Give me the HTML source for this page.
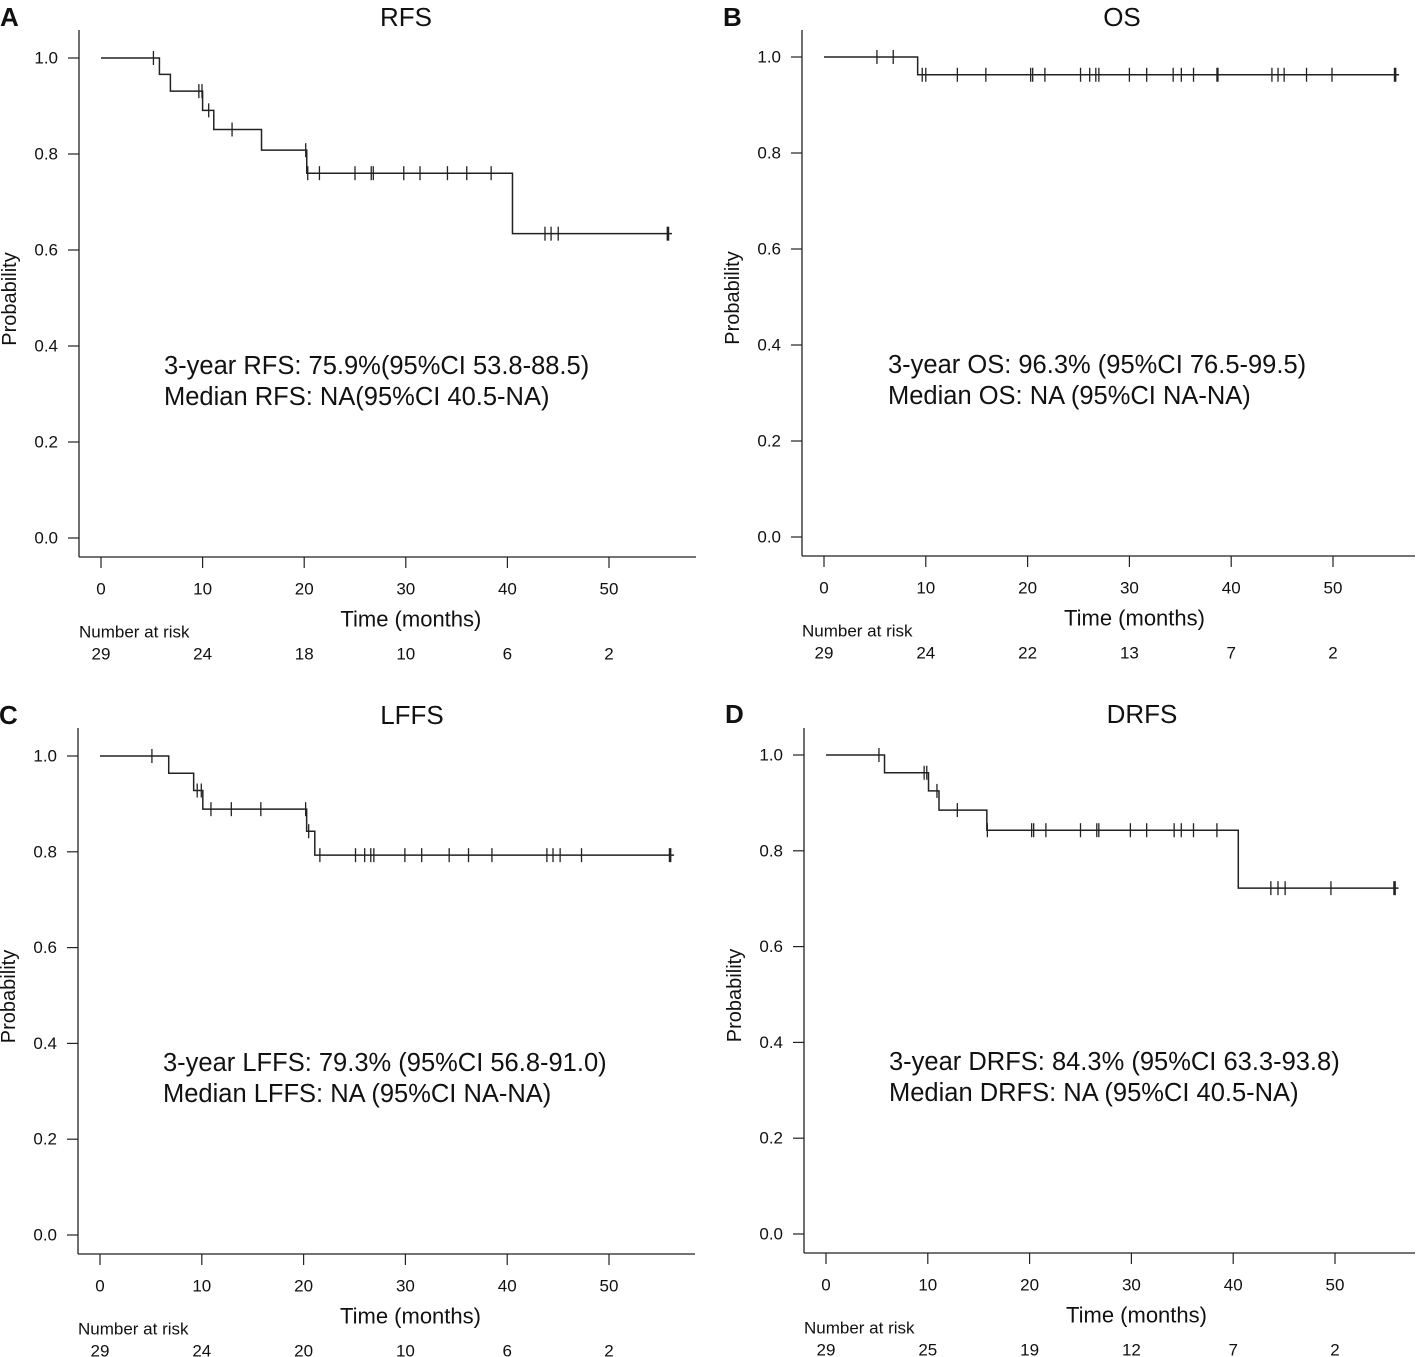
<!DOCTYPE html>
<html><head><meta charset="utf-8">
<style>
html,body{margin:0;padding:0;background:#fff;}
svg{display:block;font-family:"Liberation Sans",Arial,sans-serif;}
</style></head>
<body>
<svg id="fig" width="1418" height="1357" viewBox="0 0 1418 1357" xmlns="http://www.w3.org/2000/svg"></svg>
<script>
// ---- Data ----
const rfsEventTimes = [5.75, 6.83, 10.0, 11.1, 15.8, 20.25, 40.5];
const rfsSurv = [0.966, 0.931, 0.891, 0.851, 0.808, 0.760, 0.634];
const rfsCensor = [5.16, 9.63, 9.94, 10.6, 12.9, 20.15, 20.35, 21.5, 25.0, 26.6, 26.8, 29.8, 31.4, 34.1, 36.0, 38.4, 43.7, 44.3, 45.0, 55.8];
const rfsRisk = [29, 24, 18, 10, 6, 2];

const osEventTimes = [9.2];
const osSurv = [0.963];
const osCensor = [5.2, 6.8, 9.65, 10.0, 13.1, 15.9, 20.3, 20.5, 21.7, 25.2, 26.1, 26.7, 27.0, 30.0, 31.7, 34.3, 35.1, 36.3, 38.6, 38.7, 44.0, 44.6, 45.2, 47.4, 49.9, 56.1];
const osRisk = [29, 24, 22, 13, 7, 2];

const lffsEventTimes = [6.75, 9.2, 10.1, 20.3, 21.1];
const lffsSurv = [0.964, 0.928, 0.889, 0.843, 0.793];
const lffsCensor = [5.1, 9.55, 9.95, 10.9, 12.9, 15.8, 20.2, 20.5, 21.6, 25.1, 26.0, 26.6, 26.9, 29.95, 31.6, 34.3, 36.2, 38.5, 43.9, 44.5, 45.2, 47.3, 56.0];
const lffsRisk = [29, 24, 20, 10, 6, 2];

const drfsEventTimes = [5.75, 10.07, 11.1, 15.8, 40.5];
const drfsSurv = [0.963, 0.925, 0.885, 0.843, 0.722];
const drfsCensor = [5.2, 9.64, 9.9, 10.9, 12.9, 15.85, 20.2, 20.4, 21.6, 25.0, 26.6, 26.8, 29.9, 31.5, 34.2, 34.9, 36.1, 38.4, 43.7, 44.4, 45.1, 49.6, 55.85];
const drfsRisk = [29, 25, 19, 12, 7, 2];

const xTicks = [0, 10, 20, 30, 40, 50];
const yTicks = [0, 0.2, 0.4, 0.6, 0.8, 1.0];

const svg = document.getElementById('fig');
const NS = 'http://www.w3.org/2000/svg';
function mk(tag, attrs, parent) {
  const e = document.createElementNS(NS, tag);
  for (const k in attrs) e.setAttribute(k, attrs[k]);
  (parent || svg).appendChild(e);
  return e;
}
function txt(s, x, y, size, parent, anchor) {
  const t = mk('text', {x: x, y: y, 'font-size': size, 'text-anchor': anchor || 'start', 'dominant-baseline': 'central', fill: '#111'}, parent);
  t.textContent = s;
  return t;
}

const panels = [
  {key:'rfs', letter:'A', title:'RFS', ev:rfsEventTimes, sv:rfsSurv, cs:rfsCensor, risk:rfsRisk,
   x0:101, ppm:10.16, y1:58, y0:538, left:79, right:696, top:30, titleX:406, titleY:17,
   ann:['3-year RFS: 75.9%(95%CI 53.8-88.5)','Median RFS: NA(95%CI 40.5-NA)'], annX:164, annY:366},
  {key:'os', letter:'B', title:'OS', ev:osEventTimes, sv:osSurv, cs:osCensor, risk:osRisk,
   x0:824, ppm:10.18, y1:57, y0:537, left:802, right:1415, top:30, titleX:1122, titleY:17,
   ann:['3-year OS: 96.3% (95%CI 76.5-99.5)','Median OS: NA (95%CI NA-NA)'], annX:888, annY:365},
  {key:'lffs', letter:'C', title:'LFFS', ev:lffsEventTimes, sv:lffsSurv, cs:lffsCensor, risk:lffsRisk,
   x0:100, ppm:10.18, y1:756, y0:1235, left:78, right:695, top:728, titleX:412, titleY:715,
   ann:['3-year LFFS: 79.3% (95%CI 56.8-91.0)','Median LFFS: NA (95%CI NA-NA)'], annX:163, annY:1063},
  {key:'drfs', letter:'D', title:'DRFS', ev:drfsEventTimes, sv:drfsSurv, cs:drfsCensor, risk:drfsRisk,
   x0:826, ppm:10.18, y1:755, y0:1234, left:804, right:1415, top:728, titleX:1142, titleY:714,
   ann:['3-year DRFS: 84.3% (95%CI 63.3-93.8)','Median DRFS: NA (95%CI 40.5-NA)'], annX:889, annY:1062}
];

panels.forEach(p => {
  const g = mk('g', {});
  
  
  const X = t => p.x0 + t * p.ppm;
  const Y = s => p.y0 - s * (p.y0 - p.y1);
  const bottom = p.y0 + 19;

  const L = txt(p.letter, p.x0 - 101, p.titleY, 26, g);
  L.setAttribute('font-weight', 'bold');
  
  
  const T = txt(p.title, p.titleX, p.titleY, 26, g, 'middle');
  
  

  const ya = mk('line', {x1:p.left, y1:p.top, x2:p.left, y2:bottom, stroke:'#222', 'stroke-width':1.3}, g);
  
  
  const xa = mk('line', {x1:p.left, y1:bottom, x2:p.right, y2:bottom, stroke:'#222', 'stroke-width':1.3}, g);
  
  

  yTicks.forEach(v => {
    mk('line', {x1:p.left - 11, y1:Y(v), x2:p.left, y2:Y(v), stroke:'#222', 'stroke-width':1.2}, g);
    const t = txt(v.toFixed(1), p.left - 21, Y(v), 17, g, 'end');
    
    
  });
  xTicks.forEach((v, i) => {
    mk('line', {x1:X(v), y1:bottom, x2:X(v), y2:bottom + 11, stroke:'#222', 'stroke-width':1.2}, g);
    const t = txt(String(v), X(v), p.y0 + 51, 17, g, 'middle');
    
    
    const r = txt(String(p.risk[i]), X(v), p.y0 + 116, 17, g, 'middle');
    
    
  });
  const yt = txt('Probability', 0, 0, 20, g, 'middle');
  yt.setAttribute('transform', 'translate(' + (p.left - 69) + ',' + ((p.y0 + p.y1) / 2 + 1) + ') rotate(-90)');
  
  
  const xt = txt('Time (months)', X(30.5), p.y0 + 81, 22, g, 'middle');
  
  
  const nr = txt('Number at risk', p.left, p.y0 + 94, 17, g);
  
  

  let d = 'M' + X(0) + ',' + Y(1);
  p.ev.forEach((t, i) => { d += ' H' + X(t) + ' V' + Y(p.sv[i]); });
  const end = p.cs[p.cs.length - 1];
  d += ' H' + (X(end) + 4);
  const path = mk('path', {d:d, fill:'none', stroke:'#222', 'stroke-width':1.5}, g);
  
  

  const level = t => { let s = 1; p.ev.forEach((e, i) => { if (e <= t) s = p.sv[i]; }); return s; };
  p.cs.forEach((t, i) => {
    const last = i === p.cs.length - 1;
    const c = mk('line', {x1:X(t), y1:Y(level(t)) - 7, x2:X(t), y2:Y(level(t)) + 7, stroke:'#222', 'stroke-width': last ? 2.6 : 1.3}, g);
    
    
  });

  p.ann.forEach((s, i) => {
    const a = txt(s, p.annX, p.annY + i * 31, 25.5, g);
    
    
  });
});
</script>
</body></html>
